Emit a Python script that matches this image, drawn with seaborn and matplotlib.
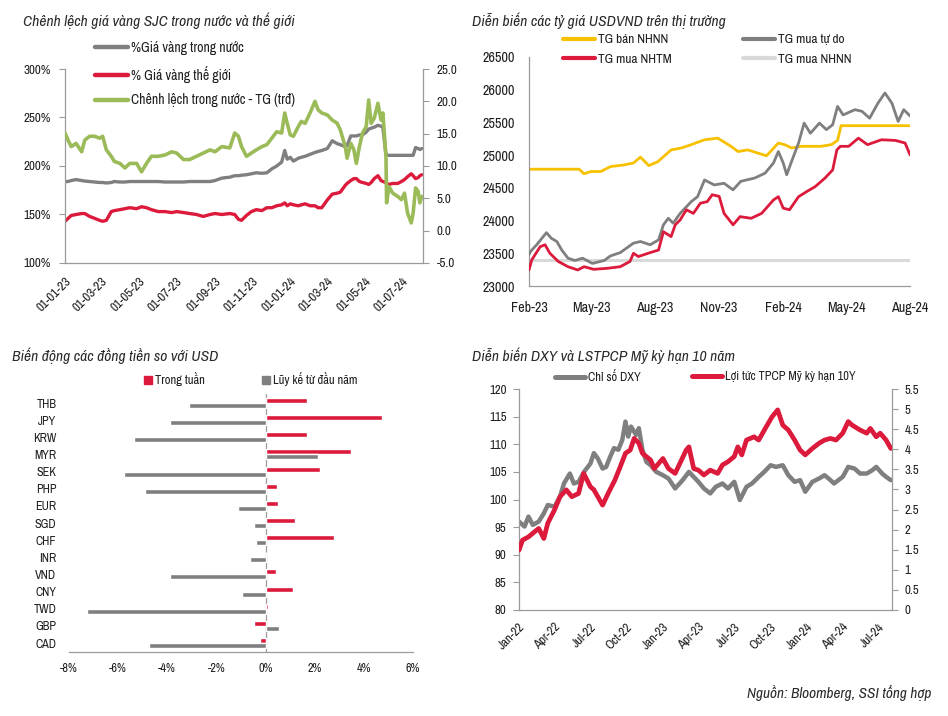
import pandas as pd
import matplotlib
matplotlib.use("Agg")
import matplotlib.pyplot as plt
import matplotlib.dates as mdates
from matplotlib import font_manager as fm
from matplotlib.ticker import FuncFormatter, MultipleLocator
from matplotlib.lines import Line2D
import seaborn as sns

sns.set_style("white")

# ---- choose a narrow sans font if one is installed ----
def _is_cond(f):
    s = f.stretch
    if isinstance(s, str):
        return s in ("ultra-condensed", "extra-condensed", "condensed", "semi-condensed")
    return s < 500

NARROW = None
STRETCH = "normal"
names = [f.name for f in fm.fontManager.ttflist]
for want in ["Liberation Sans Narrow", "Arial Narrow"]:
    if want in names:
        NARROW = want
        break
if NARROW is None:
    for f in fm.fontManager.ttflist:
        if "narrow" in f.name.lower() or "condensed" in f.name.lower():
            NARROW = f.name
            break
if NARROW is None:
    for fam in ["Roboto", "Noto Sans", "Open Sans", "Liberation Sans", "DejaVu Sans", "Inter", "Lato"]:
        if any(f.name == fam and _is_cond(f) for f in fm.fontManager.ttflist):
            NARROW = fam
            STRETCH = "condensed"
            break

if NARROW is not None:
    plt.rcParams["font.family"] = [NARROW, "DejaVu Sans"]
    plt.rcParams["font.stretch"] = STRETCH
    SCALE = 1.0
else:
    plt.rcParams["font.family"] = ["Liberation Sans", "DejaVu Sans"]
    SCALE = 0.86
plt.rcParams["axes.unicode_minus"] = False

# ---------------- Chart 1: gold price gap ----------------
gold_dates = ['2023-01-01','2023-01-06','2023-01-11','2023-01-19','2023-01-28','2023-02-02','2023-02-10','2023-02-18','2023-02-26','2023-03-03','2023-03-09','2023-03-17','2023-03-22','2023-03-31','2023-04-08','2023-04-16','2023-04-27','2023-05-05','2023-05-13','2023-05-21','2023-06-01','2023-06-12','2023-06-23','2023-07-01','2023-07-12','2023-07-22','2023-08-02','2023-08-13','2023-08-24','2023-09-01','2023-09-12','2023-09-25','2023-10-03','2023-10-09','2023-10-14','2023-10-22','2023-10-30','2023-11-07','2023-11-16','2023-11-24','2023-12-02','2023-12-10','2023-12-18','2023-12-23','2023-12-27','2024-01-01','2024-01-06','2024-01-14','2024-01-19','2024-01-25','2024-02-02','2024-02-10','2024-02-15','2024-02-21','2024-03-01','2024-03-09','2024-03-17','2024-03-22','2024-03-30','2024-04-02','2024-04-08','2024-04-13','2024-04-17','2024-04-22','2024-04-27','2024-05-03','2024-05-07','2024-05-11','2024-05-16','2024-05-22','2024-05-27','2024-05-30','2024-06-04','2024-06-05','2024-06-09','2024-06-15','2024-06-23','2024-06-29','2024-07-04','2024-07-09','2024-07-15','2024-07-18','2024-07-22','2024-07-26','2024-07-29','2024-08-01']
gold_domestic = [184, 184, 185, 186, 185, 184.5, 184, 183.5, 183, 183, 182.5, 183, 184, 183.5, 183.5, 184, 184, 184, 184, 184, 184, 183.5, 183.5, 183.5, 183.5, 184, 184, 184, 184, 185, 187.5, 188.5, 190, 190, 190.5, 191, 192, 193, 192.5, 193, 197, 200, 204, 216, 207, 209, 205, 208, 209, 210, 212, 214, 215, 216, 218, 226, 223, 222, 220, 221, 231, 231, 231, 232, 232, 235, 238, 239, 240, 242, 241, 240, 211, 211, 211, 211, 211, 211, 211, 211, 211, 211, 219, 218, 217, 218]
gold_world = [143, 146, 149, 150, 151, 151, 148, 146, 144, 143, 144, 153, 154, 155, 156, 157, 156, 158, 157, 155, 153, 153, 152, 153, 152, 151, 150, 148, 150, 151, 150, 151, 150, 145, 144, 149, 153, 155, 154, 157, 157, 159, 160, 162, 159, 161, 160, 159, 160, 161, 159, 159, 157, 157, 165, 171, 172, 173, 180, 182, 185, 187, 187, 184, 183, 182, 181, 183, 187, 190, 185, 184, 183, 182, 181, 182, 182, 184, 186, 189, 192, 190, 187, 188, 190, 191]
gold_gap = [15.1, 14.0, 13.0, 13.5, 12.2, 14.0, 14.6, 14.6, 14.3, 14.6, 12.5, 11.5, 10.7, 10.4, 9.7, 10.4, 10.4, 9.1, 10.4, 11.5, 11.5, 11.7, 12.2, 12.0, 11.0, 11.0, 11.5, 12.0, 12.5, 12.2, 13.0, 12.8, 15.1, 14.6, 13.0, 11.5, 12.0, 12.5, 13.0, 13.3, 14.3, 15.3, 15.1, 18.2, 16.6, 14.8, 14.6, 16.1, 16.9, 16.6, 18.2, 20.0, 18.7, 18.2, 17.9, 17.1, 16.6, 15.6, 13.0, 11.2, 13.5, 12.5, 10.4, 13.0, 15.1, 16.1, 20.2, 16.6, 17.4, 19.7, 17.1, 18.2, 11.5, 4.3, 6.8, 5.8, 5.3, 4.8, 5.8, 2.7, 1.2, 2.7, 6.6, 6.1, 4.3, 5.3]
gold_labels = ["%Giá vàng trong nước", "% Giá vàng thế giới", "Chênh lệch trong nước - TG (trđ)"]

# ---------------- Chart 2: USDVND rates ----------------
sbv_sell_dates = ['2023-02-01','2023-04-14','2023-04-21','2023-05-01','2023-05-15','2023-05-29','2023-06-17','2023-07-01','2023-07-11','2023-07-23','2023-08-05','2023-08-24','2023-09-08','2023-09-22','2023-10-11','2023-10-30','2023-11-18','2023-11-28','2023-12-12','2024-01-08','2024-01-25','2024-02-03','2024-02-13','2024-02-27','2024-03-26','2024-04-10','2024-04-19','2024-04-24','2024-08-01']
sbv_sell = [24785, 24785, 24715, 24750, 24750, 24825, 24850, 24880, 24970, 24840, 24900, 25080, 25110, 25160, 25235, 25260, 25135, 25055, 25080, 24990, 25185, 25160, 25110, 25135, 25135, 25160, 25225, 25450, 25450]
free_dates = ['2023-02-01','2023-02-03','2023-02-12','2023-02-26','2023-03-05','2023-03-13','2023-03-20','2023-03-29','2023-04-08','2023-04-19','2023-05-03','2023-05-20','2023-05-29','2023-06-12','2023-07-01','2023-07-11','2023-07-25','2023-08-06','2023-08-13','2023-08-20','2023-08-27','2023-09-06','2023-09-22','2023-10-01','2023-10-11','2023-10-25','2023-11-08','2023-11-21','2023-12-02','2023-12-22','2024-01-06','2024-01-18','2024-01-25','2024-02-01','2024-02-06','2024-02-13','2024-02-23','2024-03-02','2024-03-11','2024-03-24','2024-04-03','2024-04-12','2024-04-19','2024-04-27','2024-05-14','2024-05-24','2024-06-04','2024-06-16','2024-06-26','2024-07-06','2024-07-15','2024-07-23','2024-08-01']
free_buy = [23480, 23525, 23630, 23815, 23730, 23680, 23550, 23425, 23390, 23425, 23345, 23390, 23460, 23510, 23655, 23680, 23630, 23705, 23935, 24035, 23960, 24110, 24290, 24365, 24620, 24545, 24570, 24470, 24600, 24650, 24725, 24880, 25055, 24880, 24700, 24905, 25185, 25490, 25335, 25490, 25390, 25465, 25745, 25615, 25695, 25670, 25565, 25795, 25950, 25795, 25515, 25695, 25600]
nhtm_dates = ['2023-02-01','2023-02-05','2023-02-17','2023-02-24','2023-03-03','2023-03-15','2023-03-29','2023-04-12','2023-04-21','2023-05-05','2023-05-24','2023-06-12','2023-06-26','2023-07-01','2023-07-08','2023-07-22','2023-08-06','2023-08-13','2023-08-24','2023-08-30','2023-09-06','2023-09-15','2023-09-25','2023-10-05','2023-10-15','2023-10-22','2023-11-01','2023-11-08','2023-11-21','2023-12-01','2023-12-17','2024-01-01','2024-01-18','2024-01-25','2024-02-01','2024-02-10','2024-02-23','2024-03-06','2024-03-18','2024-04-01','2024-04-12','2024-04-18','2024-04-23','2024-05-05','2024-05-19','2024-06-01','2024-06-21','2024-07-11','2024-07-25','2024-08-01']
nhtm_buy = [23245, 23400, 23600, 23630, 23500, 23375, 23295, 23245, 23295, 23255, 23270, 23295, 23375, 23500, 23450, 23500, 23550, 23830, 23755, 23935, 24010, 24165, 24110, 24265, 24290, 24395, 24370, 24110, 23935, 24060, 24035, 24110, 24315, 24365, 24190, 24165, 24365, 24445, 24520, 24650, 24775, 25080, 25135, 25135, 25260, 25160, 25235, 25225, 25185, 25005]
sbv_buy_dates = ['2023-02-01', '2024-08-01']
sbv_buy = [23400, 23400]
fx_labels = ["TG bán NHNN", "TG mua tự do", "TG mua NHTM", "TG mua NHNN"]

# ---------------- Chart 3: currencies vs USD ----------------
currencies = ['THB', 'JPY', 'KRW', 'MYR', 'SEK', 'PHP', 'EUR', 'SGD', 'CHF', 'INR', 'VND', 'CNY', 'TWD', 'GBP', 'CAD']
week_chg = [1.70, 4.72, 1.70, 3.46, 2.23, 0.45, 0.52, 1.18, 2.78, 0.02, 0.41, 1.13, 0.09, -0.47, -0.23]
ytd_chg = [-3.11, -3.88, -5.35, 2.12, -5.75, -4.90, -1.14, -0.47, -0.38, -0.64, -3.88, -0.95, -7.25, 0.56, -4.74]
bar_labels = ["Trong tuần", "Lũy kế từ đầu năm"]

# ---------------- Chart 4: DXY & UST10Y ----------------
dxy_dates = ['2022-01-01','2022-01-15','2022-01-25','2022-02-05','2022-02-20','2022-03-05','2022-03-15','2022-04-01','2022-04-15','2022-04-25','2022-05-10','2022-05-20','2022-06-01','2022-06-15','2022-07-01','2022-07-10','2022-07-20','2022-08-01','2022-08-10','2022-08-20','2022-08-30','2022-09-10','2022-09-20','2022-09-28','2022-10-05','2022-10-12','2022-10-25','2022-11-01','2022-11-10','2022-11-20','2022-12-01','2022-12-15','2023-01-01','2023-01-15','2023-02-01','2023-02-20','2023-03-08','2023-03-20','2023-04-01','2023-04-15','2023-05-01','2023-05-15','2023-06-01','2023-06-15','2023-07-01','2023-07-15','2023-08-01','2023-08-15','2023-09-01','2023-09-15','2023-10-01','2023-10-15','2023-11-01','2023-11-15','2023-12-01','2023-12-15','2023-12-28','2024-01-15','2024-02-01','2024-02-15','2024-03-01','2024-03-10','2024-04-01','2024-04-15','2024-05-01','2024-05-15','2024-06-01','2024-06-15','2024-06-25','2024-07-10','2024-07-20','2024-08-01']
dxy = [96.0, 95.1, 96.9, 95.4, 96.0, 97.5, 99.0, 98.7, 100.5, 102.9, 104.7, 102.9, 103.2, 105.0, 106.5, 108.4, 107.4, 105.6, 105.9, 107.7, 109.3, 109.0, 110.8, 114.1, 111.4, 113.2, 111.7, 112.9, 109.0, 106.8, 106.2, 105.0, 104.4, 103.8, 102.0, 103.5, 105.0, 104.1, 103.2, 102.0, 101.1, 102.3, 102.9, 102.0, 103.2, 99.9, 102.3, 102.9, 104.1, 105.0, 106.2, 105.9, 106.2, 104.4, 103.2, 103.5, 101.4, 103.2, 103.8, 104.4, 103.5, 102.9, 104.1, 105.9, 105.6, 104.7, 104.7, 105.3, 105.9, 104.7, 104.1, 103.5]
ust_dates = ['2022-01-01','2022-01-10','2022-01-25','2022-02-10','2022-02-20','2022-03-05','2022-03-15','2022-04-01','2022-04-15','2022-05-01','2022-05-15','2022-06-01','2022-06-14','2022-07-01','2022-07-10','2022-08-01','2022-08-15','2022-09-01','2022-09-15','2022-09-28','2022-10-10','2022-10-20','2022-11-01','2022-11-10','2022-12-01','2022-12-10','2023-01-01','2023-01-15','2023-02-01','2023-03-01','2023-03-08','2023-03-20','2023-04-01','2023-04-15','2023-05-01','2023-05-20','2023-06-01','2023-06-15','2023-07-01','2023-07-10','2023-07-20','2023-08-01','2023-08-20','2023-09-01','2023-09-20','2023-10-05','2023-10-19','2023-11-01','2023-11-15','2023-12-01','2023-12-15','2023-12-28','2024-01-15','2024-02-01','2024-02-15','2024-03-01','2024-03-15','2024-04-01','2024-04-15','2024-04-25','2024-05-15','2024-06-01','2024-06-10','2024-06-25','2024-07-05','2024-07-20','2024-08-01']
ust10y = [1.49, 1.74, 1.82, 1.95, 2.03, 1.78, 2.16, 2.49, 2.82, 2.99, 2.82, 2.90, 3.40, 3.07, 2.99, 2.61, 2.90, 3.23, 3.57, 3.90, 3.98, 4.27, 4.15, 3.90, 3.73, 3.52, 3.77, 3.52, 3.40, 3.98, 4.06, 3.52, 3.48, 3.36, 3.48, 3.40, 3.61, 3.69, 3.82, 4.06, 3.86, 4.23, 4.31, 4.23, 4.56, 4.81, 4.98, 4.60, 4.48, 4.23, 3.98, 3.86, 4.02, 4.15, 4.23, 4.27, 4.23, 4.40, 4.69, 4.60, 4.48, 4.40, 4.52, 4.31, 4.40, 4.23, 4.02]
dxy_labels = ["Chỉ số DXY", "Lợi tức TPCP Mỹ kỳ hạn 10Y"]

titles = ["Chênh lệch giá vàng SJC trong nước và thế giới",
          "Diễn biến các tỷ giá USDVND trên thị trường",
          "Biến động các đồng tiền so với USD",
          "Diễn biến DXY và LSTPCP Mỹ kỳ hạn 10 năm"]
source = "Nguồn: Bloomberg, SSI tổng hợp"

# ---------------- styling ----------------
RED = "#dc1a3c"
GRAY = "#7f7f7f"
GREEN = "#9bbb59"
GOLD = "#f7c100"
LGRAY = "#d9d9d9"
SPINE = "#9a9a9a"
TXT = "#1e1e1e"
TFS = 11.2 * SCALE

W, H = 948, 716
fig = plt.figure(figsize=(W / 100, H / 100), dpi=100)


def box(l, t, r, b):
    return [l / W, 1 - b / H, (r - l) / W, (b - t) / H]


def fx(px):
    return px / W


def fy(py):
    return 1 - py / H


def style(ax, fs, left=True, right=False, bottom=True, xpad=3, ypad=6):
    for s in ["top", "left", "right", "bottom"]:
        ax.spines[s].set_visible(False)
        ax.spines[s].set_color(SPINE)
        ax.spines[s].set_linewidth(0.9)
    ax.spines["left"].set_visible(left)
    ax.spines["right"].set_visible(right)
    ax.spines["bottom"].set_visible(bottom)
    ax.tick_params(axis="both", which="both", direction="out", length=4, width=0.8,
                   color=SPINE, labelcolor=TXT, labelsize=fs * SCALE)
    ax.tick_params(axis="x", pad=xpad)
    ax.tick_params(axis="y", pad=ypad)
    ax.set_xlabel("")
    ax.set_ylabel("")
    ax.grid(False)


def line(ax, dates, vals, color, lw, z=2):
    sns.lineplot(x=pd.to_datetime(dates), y=vals, ax=ax, color=color, linewidth=lw,
                 legend=False, zorder=z, errorbar=None)


def legend_at(handles, labels, x, y, fs, **kw):
    opts = dict(loc="upper left", frameon=False, fontsize=fs * SCALE, handlelength=2.4,
                handletextpad=0.25, borderpad=0, borderaxespad=0, labelcolor=TXT)
    opts.update(kw)
    fig.legend(handles, labels, bbox_to_anchor=(fx(x), fy(y)), **opts)


def rotate(ax):
    for lab in ax.get_xticklabels():
        lab.set_rotation(45)
        lab.set_ha("right")
        lab.set_rotation_mode("anchor")


# ---- Chart 1 ----
ax1 = fig.add_axes(box(65, 69, 423, 263))
ax1r = ax1.twinx()
line(ax1, gold_dates, gold_domestic, GRAY, 2.4)
line(ax1, gold_dates, gold_world, RED, 2.4)
line(ax1r, gold_dates, gold_gap, GREEN, 2.6)
ax1.set_ylim(100, 300)
ax1.yaxis.set_major_locator(MultipleLocator(50))
ax1.yaxis.set_major_formatter(FuncFormatter(lambda v, p: f"{v:.0f}%"))
ax1r.set_ylim(-5, 25)
ax1r.yaxis.set_major_locator(MultipleLocator(5))
ax1r.yaxis.set_major_formatter(FuncFormatter(lambda v, p: f"{v:.1f}"))
ax1.set_xlim(pd.Timestamp("2023-01-01"), pd.Timestamp("2024-08-03"))
ax1.xaxis.set_major_locator(mdates.MonthLocator(bymonth=[1, 3, 5, 7, 9, 11]))
ax1.xaxis.set_major_formatter(mdates.DateFormatter("%d-%m-%y"))
style(ax1, 9.4, left=True, right=False, xpad=5)
style(ax1r, 9.4, left=False, right=True, bottom=False)
rotate(ax1)
h1 = [Line2D([], [], color=c, lw=3.2) for c in (GRAY, RED, GREEN)]
legend_at(h1, gold_labels, 95, 41, 9.9, labelspacing=0.78)

# ---- Chart 2 ----
ax2 = fig.add_axes(box(529, 57, 910, 286))
line(ax2, sbv_buy_dates, sbv_buy, LGRAY, 2.2, 1)
line(ax2, sbv_sell_dates, sbv_sell, GOLD, 2.0, 2)
line(ax2, free_dates, free_buy, GRAY, 2.0, 3)
line(ax2, nhtm_dates, nhtm_buy, RED, 2.0, 4)
ax2.set_ylim(23000, 26500)
ax2.yaxis.set_major_locator(MultipleLocator(500))
ax2.yaxis.set_major_formatter(FuncFormatter(lambda v, p: f"{v:.0f}"))
ax2.set_xlim(pd.Timestamp("2023-02-01"), pd.Timestamp("2024-08-01"))
ax2.xaxis.set_major_locator(mdates.MonthLocator(bymonth=[2, 5, 8, 11]))
ax2.xaxis.set_major_formatter(mdates.DateFormatter("%b-%y"))
style(ax2, 10.2, left=True, xpad=7)
legend_at([Line2D([], [], color=GOLD, lw=3.0), Line2D([], [], color=RED, lw=3.0)],
          [fx_labels[0], fx_labels[2]], 563, 34, 9.6, labelspacing=0.6)
legend_at([Line2D([], [], color=GRAY, lw=3.0), Line2D([], [], color=LGRAY, lw=3.0)],
          [fx_labels[1], fx_labels[3]], 743, 34, 9.6, labelspacing=0.6)

# ---- Chart 3 ----
ax3 = fig.add_axes(box(69, 394, 413, 652))
bar_df = pd.DataFrame({
    "currency": currencies * 2,
    "value": week_chg + ytd_chg,
    "series": [bar_labels[0]] * len(currencies) + [bar_labels[1]] * len(currencies),
})
sns.barplot(data=bar_df, y="currency", x="value", hue="series", hue_order=bar_labels,
            order=currencies, orient="h", palette=[RED, GRAY], saturation=1,
            width=0.58, errorbar=None, legend=False, ax=ax3)
ax3.set_xlim(-8, 6)
ax3.set_ylim(14.525, -0.525)
ax3.xaxis.set_major_locator(MultipleLocator(2))
ax3.xaxis.set_major_formatter(FuncFormatter(lambda v, p: f"{v:.0f}%"))
style(ax3, 8.8, left=False, xpad=4)
ax3.tick_params(axis="y", length=0, pad=9)
ax3.axvline(0, color=SPINE, lw=0.9, zorder=0.5)
legend_at([Line2D([], [], color=RED, marker="s", markersize=6, linestyle="none")],
          [bar_labels[0]], 143, 372, 9.0, handlelength=0.8, handletextpad=0.15)
legend_at([Line2D([], [], color=GRAY, marker="s", markersize=6, linestyle="none")],
          [bar_labels[1]], 261, 372, 9.0, handlelength=0.8, handletextpad=0.15)

# ---- Chart 4 ----
ax4 = fig.add_axes(box(519, 389, 892, 610))
ax4r = ax4.twinx()
line(ax4, dxy_dates, dxy, GRAY, 3.2, 2)
line(ax4r, ust_dates, ust10y, RED, 3.4, 3)
ax4.set_ylim(80, 120)
ax4.yaxis.set_major_locator(MultipleLocator(5))
ax4r.set_ylim(0, 5.5)
ax4r.yaxis.set_major_locator(MultipleLocator(0.5))
ax4r.yaxis.set_major_formatter(FuncFormatter(lambda v, p: f"{v:g}"))
ax4.set_xlim(pd.Timestamp("2022-01-01"), pd.Timestamp("2024-08-04"))
ax4.xaxis.set_major_locator(mdates.MonthLocator(bymonth=[1, 4, 7, 10]))
ax4.xaxis.set_major_formatter(mdates.DateFormatter("%b-%y"))
style(ax4, 9.2, left=True, xpad=4, ypad=5)
style(ax4r, 9.2, left=False, right=True, bottom=False, ypad=5)
rotate(ax4)
legend_at([Line2D([], [], color=GRAY, lw=3.6)], [dxy_labels[0]], 555, 371, 8.9)
legend_at([Line2D([], [], color=RED, lw=3.6)], [dxy_labels[1]], 692, 371, 8.9)

# ---- titles & source ----
title_pos = [(23, 21), (472, 21), (12, 356), (472, 356)]
for (tx, ty), t in zip(title_pos, titles):
    fig.text(fx(tx), fy(ty), t, style="italic", fontsize=TFS, color="#2a2a2a",
             ha="left", va="center")
fig.text(fx(931), fy(693), source, style="italic", fontsize=11 * SCALE, color="#2a2a2a",
         ha="right", va="center")

fig.savefig("out.png", dpi=100, facecolor="white")
